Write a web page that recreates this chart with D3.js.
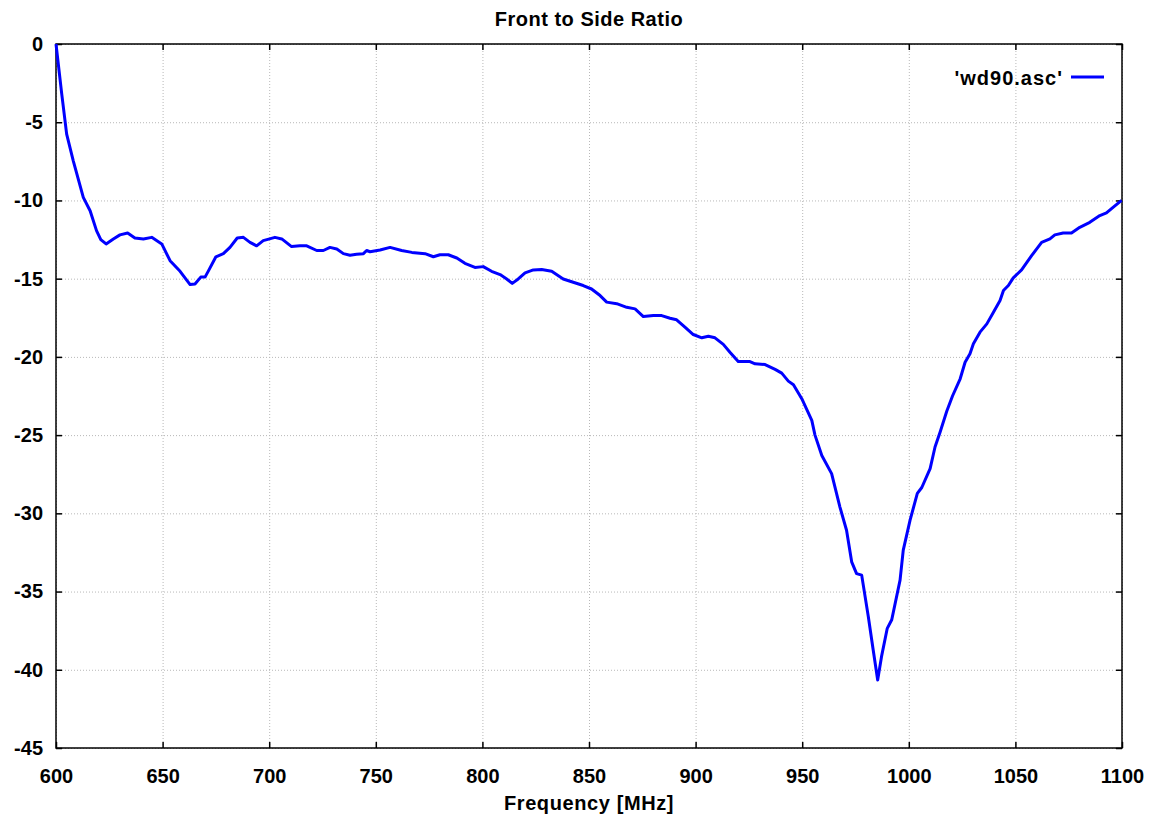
<!DOCTYPE html>
<html>
<head>
<meta charset="utf-8">
<script src="https://cdn.jsdelivr.net/npm/d3@7"></script>
<style>
  body { margin: 0; background: #fff; }
  svg { display: block; font-family: "Liberation Sans", Arial, sans-serif; font-weight: bold; }
  .grid line { stroke: #b8b8b8; stroke-width: 1; stroke-dasharray: 1,2; }
  .grid .domain { display: none; }
</style>
</head>
<body>
<div id="chart"></div>
<script>
// frequency [MHz] and front-to-side ratio [dB]
var freqs = [600, 602.7, 605, 608.1, 612.8, 616, 619, 621, 623.5, 626.9, 630, 633.6, 637, 641, 644.9,
  649.6, 653.5, 658.2, 662.9, 665.2, 667.9, 669.9, 671.5, 675, 678.5, 681.6, 685, 687.9, 691, 694.1,
  697.2, 702.7, 705.9, 710.5, 714.4, 717.6, 722.3, 725.4, 728.5, 731.7, 734.8, 737.9, 741, 744.2,
  745.7, 747.3, 752, 756.7, 762.1, 766.9, 773.1, 777, 780.1, 784, 788, 791.8, 796.5, 800.4, 804.3,
  808.3, 811.4, 814, 816.8, 820, 823.9, 827.8, 832.5, 837.9, 842.6, 847.3, 851.2, 855.2, 858.3, 863,
  867.7, 871.6, 875.5, 880.2, 884.1, 888, 891.1, 895, 898.9, 902.9, 906, 909.1, 913, 916.1, 920,
  925.5, 927.9, 932.6, 937.3, 940.4, 943.5, 945.9, 949.8, 954.5, 956, 959.2, 963.8, 967.7, 970.8,
  973.2, 975.5, 977.9, 981, 983.3, 985.4, 987.2, 989.9, 992, 995.9, 997.4, 1000.6, 1004, 1006.1,
  1010, 1012.3, 1014.7, 1017.8, 1020.5, 1024.1, 1026.4, 1028.7, 1030.3, 1033.4, 1036.6, 1039.7, 1042.8,
  1044.4, 1046.7, 1049, 1052.9, 1057.6, 1062.3, 1066.2, 1068.5, 1072.4, 1076.3, 1080.2, 1084.9,
  1089.6, 1092.7, 1095.8, 1099.8];
var ratio = [0, -3.2, -5.76, -7.47, -9.8, -10.66, -11.93, -12.5, -12.78, -12.46, -12.2, -12.08, -12.4, -12.46, -12.36,
  -12.78, -13.85, -14.53, -15.38, -15.34, -14.9, -14.9, -14.5, -13.6, -13.4, -13.0, -12.4, -12.36, -12.68, -12.9,
  -12.57, -12.36, -12.46, -12.95, -12.9, -12.9, -13.2, -13.2, -13.0, -13.1, -13.4, -13.5, -13.44, -13.4,
  -13.2, -13.28, -13.17, -13.0, -13.2, -13.32, -13.4, -13.6, -13.47, -13.47, -13.68, -14.02, -14.28, -14.23, -14.53,
  -14.74, -15.02, -15.3, -15.02, -14.63, -14.44, -14.42, -14.53, -15.02, -15.23, -15.44, -15.66, -16.08, -16.5, -16.6,
  -16.83, -16.93, -17.42, -17.36, -17.36, -17.53, -17.63, -18.1, -18.57, -18.78, -18.68, -18.78, -19.2, -19.7, -20.3,
  -20.3, -20.44, -20.49, -20.8, -21.04, -21.55, -21.78, -22.67, -24.06, -25.0, -26.3, -27.46, -29.6, -31.08,
  -33.1, -33.85, -33.95, -36.6, -38.74, -40.65, -39.16, -37.35, -36.8, -34.27, -32.35, -30.43, -28.73, -28.35,
  -27.14, -25.76, -24.8, -23.48, -22.5, -21.4, -20.34, -19.8, -19.16, -18.42, -17.89, -17.14, -16.4,
  -15.76, -15.44, -14.95, -14.44, -13.53, -12.68, -12.46, -12.2, -12.08, -12.08, -11.72, -11.4,
  -10.97, -10.8, -10.44, -10.0];
var xTicks = [600, 650, 700, 750, 800, 850, 900, 950, 1000, 1050, 1100];
var yTicks = [0, -5, -10, -15, -20, -25, -30, -35, -40, -45];
var seriesName = "'wd90.asc'";

var W = 1160, H = 819;
var margin = {top: 44, right: 38, bottom: 71, left: 56};
var width = W - margin.left - margin.right,
    height = H - margin.top - margin.bottom;

var svg = d3.select('#chart').append('svg')
    .attr('width', W)
    .attr('height', H);

var g = svg.append('g')
    .attr('transform', 'translate(' + margin.left + ',' + margin.top + ')');

var x = d3.scaleLinear().domain([600, 1100]).range([0, width]);
var y = d3.scaleLinear().domain([-45, 0]).range([height, 0]);

// plain hyphen minus, like the original
var fmt = function(d) { return String(d); };

// dotted grid
g.append('g').attr('class', 'grid')
    .attr('transform', 'translate(0,' + height + ')')
    .call(d3.axisBottom(x).tickValues(xTicks).tickSize(-height).tickFormat(''));
g.append('g').attr('class', 'grid')
    .call(d3.axisLeft(y).tickValues(yTicks).tickSize(-width).tickFormat(''));

// inward ticks on all four sides
function ticks(axis, tr) {
  var a = g.append('g').attr('transform', tr).call(axis);
  a.select('.domain').remove();
  a.selectAll('line').attr('stroke', '#000').attr('stroke-width', 1.5);
  a.selectAll('text').attr('fill', '#000').style('font-size', '20px').style('font-weight', 'bold');
  return a;
}
ticks(d3.axisBottom(x).tickValues(xTicks).tickSizeInner(-6).tickSizeOuter(0).tickPadding(21).tickFormat(fmt),
  'translate(0,' + height + ')');
ticks(d3.axisTop(x).tickValues(xTicks).tickSizeInner(-6).tickSizeOuter(0).tickFormat(''), 'translate(0,0)');
ticks(d3.axisLeft(y).tickValues(yTicks).tickSizeInner(-6).tickSizeOuter(0).tickPadding(13).tickFormat(fmt),
  'translate(0,0)');
ticks(d3.axisRight(y).tickValues(yTicks).tickSizeInner(-6).tickSizeOuter(0).tickFormat(''),
  'translate(' + width + ',0)');

// frame
g.append('rect')
    .attr('width', width)
    .attr('height', height)
    .attr('fill', 'none')
    .attr('stroke', '#000')
    .attr('stroke-width', 1.5);

// curve
var pts = freqs.map(function(f, i) { return [f, ratio[i]]; });
var line = d3.line()
    .x(function(d) { return x(d[0]); })
    .y(function(d) { return y(d[1]); });

g.append('path')
    .datum(pts)
    .attr('fill', 'none')
    .attr('stroke', '#0000ff')
    .attr('stroke-width', 3)
    .attr('stroke-linejoin', 'round')
    .attr('d', line);

// legend
g.append('text')
    .attr('x', 1063 - margin.left)
    .attr('y', 85 - margin.top)
    .attr('text-anchor', 'end')
    .style('font-size', '20px')
    .style('letter-spacing', '1px')
    .text(seriesName);
g.append('line')
    .attr('x1', 1071 - margin.left).attr('x2', 1104 - margin.left)
    .attr('y1', 77 - margin.top).attr('y2', 77 - margin.top)
    .attr('stroke', '#0000ff')
    .attr('stroke-width', 3);

// titles
svg.append('text')
    .attr('x', margin.left + width / 2)
    .attr('y', 26)
    .attr('text-anchor', 'middle')
    .style('font-size', '20px')
    .style('letter-spacing', '0.5px')
    .text('Front to Side Ratio');
svg.append('text')
    .attr('x', margin.left + width / 2)
    .attr('y', 810)
    .attr('text-anchor', 'middle')
    .style('font-size', '20px')
    .style('letter-spacing', '0.6px')
    .text('Frequency [MHz]');
</script>
</body>
</html>
